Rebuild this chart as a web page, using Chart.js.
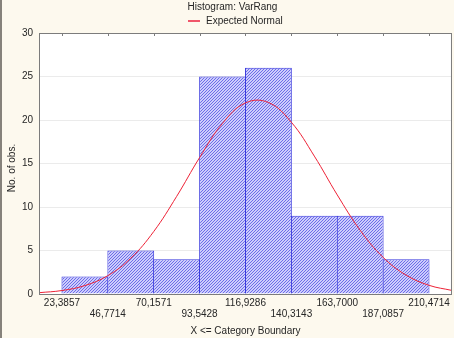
<!DOCTYPE html>
<html>
<head>
<meta charset="utf-8">
<script src="https://cdn.jsdelivr.net/npm/chart.js@4/dist/chart.umd.min.js"></script>
<style>
  html, body { margin: 0; padding: 0; background: #fdf9ee; }
  #wrap { width: 454px; height: 338px; position: relative; }
</style>
</head>
<body>
<div id="wrap"><canvas id="hist"></canvas></div>
<script>
// category boundaries (upper limits, X <= boundary)
const boundaries = [23.3857, 46.7714, 70.1571, 93.5428, 116.9286, 140.3143, 163.7000, 187.0857, 210.4714];
const boundaryLabels = ['23,3857', '46,7714', '70,1571', '93,5428', '116,9286', '140,3143', '163,7000', '187,0857', '210,4714'];
// observations per class, between consecutive boundaries
const counts = [2, 5, 4, 25, 26, 9, 9, 4];
// expected normal curve, sampled every half class
const normalX = [11.69, 23.39, 35.08, 46.77, 58.46, 70.16, 81.85, 93.54, 105.24, 116.93,
                 128.62, 140.31, 152.01, 163.70, 175.39, 187.09, 198.78, 210.47, 222.16];
const normalY = [0.15, 0.40, 0.97, 2.11, 4.11, 7.18, 11.22, 15.68, 19.62, 21.97,
                 22.01, 19.74, 15.85, 11.39, 7.32, 4.21, 2.17, 1.00, 0.41];
const yTicks = [0, 5, 10, 15, 20, 25, 30];

const textColor = '#262626';
const fontFamily = '"Liberation Sans", Arial, sans-serif';

// blue diagonal hatch for the bars
function makeHatch() {
    const c = document.createElement('canvas');
    c.width = 3; c.height = 3;
    const g = c.getContext('2d');
    g.fillStyle = '#cdcdfc';
    g.fillRect(0, 0, 3, 3);
    g.fillStyle = '#6c6ce8';
    for (let i = 0; i < 3; i++) g.fillRect(i, 2 - i, 1, 1);
    return g.createPattern(c, 'repeat');
}

const barData = counts.map((v, i) => ({ x: (boundaries[i] + boundaries[i + 1]) / 2, y: v }));
const curveData = normalX.map((x, i) => ({ x: x, y: normalY[i] }));

const frame = {
    id: 'frame',
    beforeDraw(chart) {
        const { ctx, chartArea: a, width, height } = chart;
        ctx.save();
        ctx.fillStyle = '#fdf9ee';
        ctx.fillRect(0, 0, width, height);
        ctx.fillStyle = '#86827b';
        ctx.fillRect(0, 0, 2, height);
        ctx.fillStyle = '#ffffff';
        ctx.fillRect(a.left, a.top, a.right - a.left, a.bottom - a.top);
        ctx.restore();
    },
    afterDraw(chart) {
        const { ctx, chartArea: a } = chart;
        const xs = chart.scales.x;
        ctx.save();
        ctx.strokeStyle = '#7c7c7c';
        ctx.lineWidth = 1;
        ctx.strokeRect(a.left + 0.5, a.top + 0.5, a.right - a.left - 1, a.bottom - a.top);
        // small tick marks on the upper border
        ctx.beginPath();
        boundaries.forEach(b => {
            const px = Math.round(xs.getPixelForValue(b)) + 0.5;
            ctx.moveTo(px, a.top);
            ctx.lineTo(px, a.top + 3);
        });
        ctx.stroke();

        // title, legend and y axis title
        ctx.fillStyle = textColor;
        ctx.font = '10px ' + fontFamily;
        ctx.textBaseline = 'middle';
        ctx.textAlign = 'center';
        ctx.fillText('Histogram: VarRang', 232.5, 7.5);
        ctx.strokeStyle = '#f0566a';
        ctx.lineWidth = 2;
        ctx.beginPath();
        ctx.moveTo(188, 21);
        ctx.lineTo(200, 21);
        ctx.stroke();
        ctx.textAlign = 'left';
        ctx.fillText('Expected Normal', 206, 21.5);

        ctx.translate(12, 168);
        ctx.rotate(-Math.PI / 2);
        ctx.textAlign = 'center';
        ctx.fillText('No. of obs.', 0, 0);
        ctx.restore();
    }
};

new Chart(document.getElementById('hist'), {
    type: 'bar',
    data: {
        datasets: [{
            type: 'line',
            label: 'Expected Normal',
            data: curveData,
            borderColor: '#ee2236',
            borderWidth: 1,
            pointRadius: 0,
            tension: 0.4,
            fill: false,
            order: 0
        }, {
            type: 'bar',
            label: 'VarRang',
            data: barData,
            backgroundColor: makeHatch(),
            borderColor: '#3a3ade',
            borderWidth: 1,
            barPercentage: 1.02,
            categoryPercentage: 1,
            order: 1
        }]
    },
    options: {
        responsive: true,
        maintainAspectRatio: false,
        animation: false,
        layout: { padding: { top: 33, right: 2, left: 0, bottom: 0 } },
        plugins: {
            legend: { display: false },
            title: { display: false },
            tooltip: { enabled: false }
        },
        scales: {
            x: {
                type: 'linear',
                offset: false,
                min: 11.6929,
                max: 222.1643,
                afterBuildTicks: s => { s.ticks = boundaries.map(v => ({ value: v })); },
                afterFit: s => { s.height = 44; },
                grid: { display: false, drawTicks: false },
                border: { display: false },
                ticks: {
                    autoSkip: false,
                    maxRotation: 0,
                    padding: 4,
                    color: textColor,
                    font: { family: fontFamily, size: 10, lineHeight: 1.1 },
                    callback: (v, i) => i % 2 === 0 ? [boundaryLabels[i], ''] : ['', boundaryLabels[i]]
                },
                title: {
                    display: true,
                    text: 'X <= Category Boundary',
                    color: textColor,
                    font: { family: fontFamily, size: 10 },
                    padding: { top: 0, bottom: 1 }
                }
            },
            y: {
                min: 0,
                max: 30,
                afterBuildTicks: s => { s.ticks = yTicks.map(v => ({ value: v })); },
                afterFit: s => { s.width = 39; },
                grid: { color: '#ebebeb', drawTicks: false },
                border: { display: false },
                ticks: {
                    padding: 6,
                    color: textColor,
                    font: { family: fontFamily, size: 10 }
                }
            }
        }
    },
    plugins: [frame]
});
</script>
</body>
</html>
